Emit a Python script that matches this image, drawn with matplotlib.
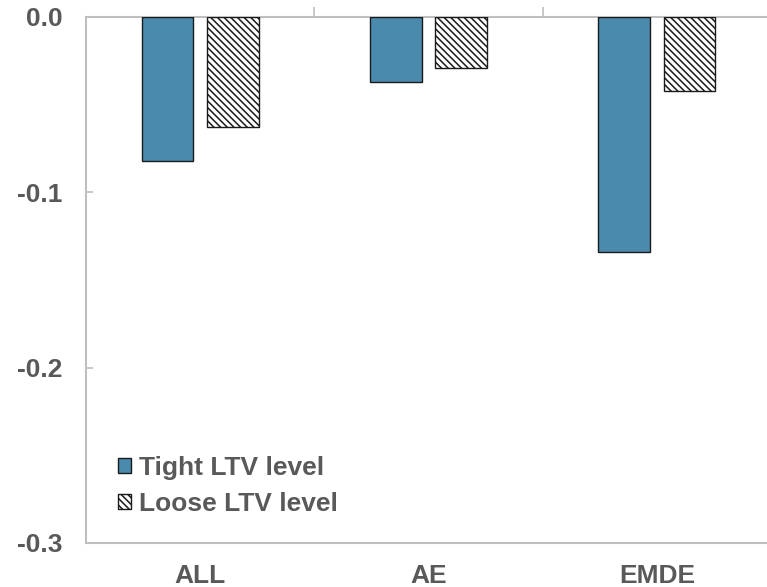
import numpy as np
import matplotlib
matplotlib.use('Agg')
import matplotlib.pyplot as plt

# data
groups = ['ALL', 'AE', 'EMDE']
tight = [-0.082, -0.037, -0.134]
loose = [-0.063, -0.029, -0.042]
series_names = ['Tight LTV level', 'Loose LTV level']

plt.rcParams['font.family'] = ['Liberation Sans', 'DejaVu Sans']
plt.rcParams['font.weight'] = 'bold'
plt.rcParams['hatch.color'] = '#555555'
plt.rcParams['hatch.linewidth'] = 1.1

txt = '#595959'
axc = '#bfbfbf'
fs = 19

fig = plt.figure(figsize=(7.67, 5.87), dpi=100)
ax = fig.add_axes([86/767, 1-543/587, (771-86)/767, (543-17)/587])

pos = np.arange(len(groups))
width = 0.226
off = 0.143
ax.bar(pos - off, tight, width, color='#4a8aad', edgecolor='#1a1a1a',
       linewidth=1.0, label=series_names[0])
ax.bar(pos + off, loose, width, color='white', edgecolor='#1a1a1a',
       linewidth=1.0, hatch='\\' * 5, label=series_names[1])

ax.set_xlim(-0.5, 2.5)
ax.set_ylim(-0.3, 0.0)
ax.set_yticks([0.0, -0.1, -0.2, -0.3])
ax.set_yticklabels(['0.0', '-0.1', '-0.2', '-0.3'])

# category labels at bottom, boundary ticks on the zero line
ax.set_xticks(pos)
ax.set_xticklabels(groups)
ax.set_xticks([0.5, 1.5], minor=True)
ax.tick_params(axis='x', which='major', length=0, pad=15, labelsize=fs, labelcolor=txt)
ax.tick_params(axis='x', which='minor', top=True, bottom=False, direction='out',
               length=7, color=axc, width=1.2)
ax.tick_params(axis='y', direction='in', length=5, color=axc, width=1.2,
               pad=17, labelsize=fs, labelcolor=txt)

for s in ['top', 'bottom', 'left']:
    ax.spines[s].set_color(axc)
    ax.spines[s].set_linewidth(1.5)
ax.spines['right'].set_visible(False)
ax.spines['top'].set_zorder(0)

leg = ax.legend(loc='lower left', bbox_to_anchor=(0.047, 0.051), frameon=False,
                borderpad=0, borderaxespad=0, fontsize=fs, handlelength=0.5,
                handleheight=0.5, handletextpad=0.3, labelspacing=0.45,
                labelcolor=txt)

plt.savefig('out.png', dpi=100)
